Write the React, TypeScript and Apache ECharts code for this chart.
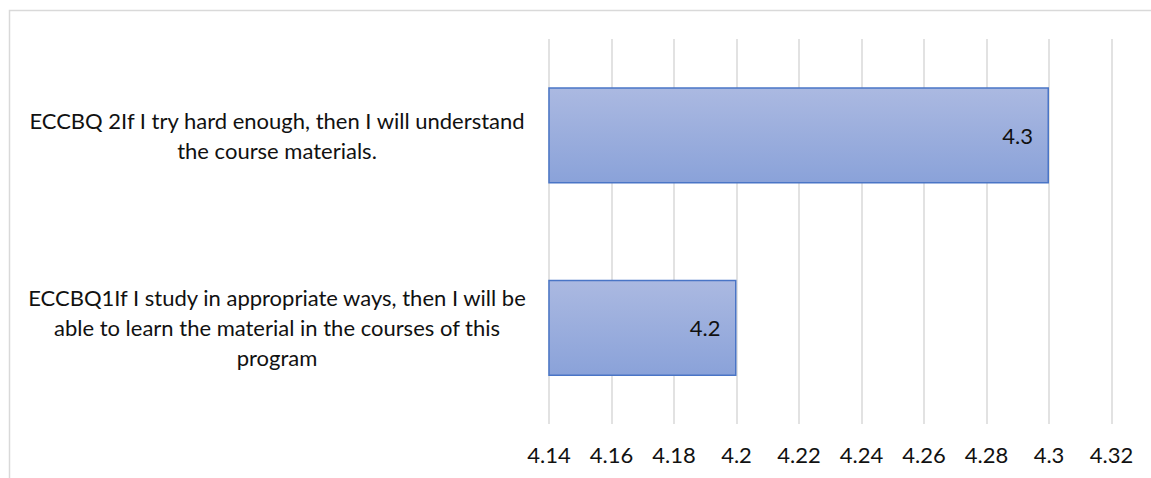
import React, { useEffect, useRef } from "react";
import * as echarts from "echarts";

const categories = [
  "ECCBQ1If I study in appropriate ways, then I will be\nable to learn the material in the courses of this\nprogram",
  "ECCBQ 2If I try hard enough, then I will understand\nthe course materials.",
];
const values = [4.2, 4.3];
const xMin = 4.14;
const xMax = 4.32;
const xStep = 0.02;

const FONT = "Lato";

export default function App() {
  const ref = useRef<HTMLDivElement>(null);
  useEffect(() => {
    document.body.style.margin = "0";
    const chart = echarts.init(ref.current!, null, { renderer: "svg" });
    chart.setOption({
      animation: false,
      backgroundColor: "#ffffff",
      graphic: [
        {
          type: "rect",
          shape: { x: 9.5, y: 10.5, width: 1200, height: 600 },
          style: { fill: "none", stroke: "#d9d9d9", lineWidth: 1.5 },
          silent: true,
        },
      ],
      grid: { left: 549, right: 39.5, top: 39, bottom: 54, containLabel: false },
      xAxis: {
        type: "value",
        min: xMin,
        max: xMax,
        interval: xStep,
        axisLine: { show: false },
        axisTick: { show: false },
        splitLine: { show: true, lineStyle: { color: "#d9d9d9", width: 1.5 } },
        axisLabel: {
          fontFamily: FONT,
          fontSize: 22,
          color: "#111",
          margin: 19,
          formatter: (v: number) => String(+v.toFixed(2)),
        },
      },
      yAxis: {
        type: "category",
        data: categories,
        axisLine: { show: false },
        axisTick: { show: false },
        axisLabel: {
          fontFamily: FONT,
          fontSize: 22,
          color: "#111",
          align: "center",
          margin: 272,
          lineHeight: 30,
        },
      },
      series: [
        {
          type: "bar",
          data: values,
          barCategoryGap: "50%",
          itemStyle: {
            color: new echarts.graphic.LinearGradient(0, 0, 0, 1, [
              { offset: 0, color: "#abb9e1" },
              { offset: 1, color: "#8aa2d9" },
            ]),
            borderColor: "#4a75c6",
            borderWidth: 1.5,
          },
          label: {
            show: true,
            position: "insideRight",
            distance: 16,
            fontFamily: FONT,
            fontSize: 22,
            color: "#111",
          },
        },
      ],
    });
    return () => chart.dispose();
  }, []);
  return <div ref={ref} style={{ width: 1151, height: 478 }} />;
}
